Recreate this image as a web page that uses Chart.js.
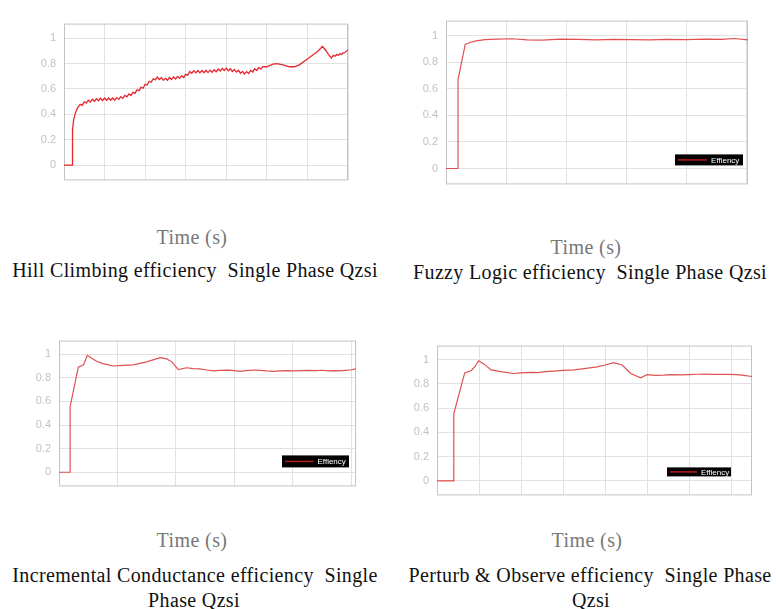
<!DOCTYPE html>
<html>
<head>
<meta charset="utf-8">
<script src="https://cdn.jsdelivr.net/npm/chart.js@4.4.1/dist/chart.umd.min.js"></script>
<style>
  body { margin: 0; width: 776px; height: 609px; background: #fff; position: relative; overflow: hidden; }
  canvas { position: absolute; }
  .lbl { position: absolute; font-family: "Liberation Serif", serif; font-size: 20px; letter-spacing: 0.35px; white-space: nowrap; transform: translate(-50%, -50%); }
  .time { color: #777; letter-spacing: 0.4px; }
  .cap { color: #111; }
</style>
</head>
<body>
<canvas id="hill"></canvas>
<canvas id="fuzzy"></canvas>
<canvas id="inc"></canvas>
<canvas id="po"></canvas>

<div class="lbl time" style="left:192px; top:237px">Time (s)</div>
<div class="lbl cap" style="left:195px; top:270px">Hill Climbing efficiency&nbsp; Single Phase Qzsi</div>
<div class="lbl time" style="left:586px; top:247px">Time (s)</div>
<div class="lbl cap" style="left:590px; top:272px">Fuzzy Logic efficiency&nbsp; Single Phase Qzsi</div>
<div class="lbl time" style="left:192px; top:540px">Time (s)</div>
<div class="lbl cap" style="left:195px; top:575px">Incremental Conductance efficiency&nbsp; Single</div>
<div class="lbl cap" style="left:194px; top:600px">Phase Qzsi</div>
<div class="lbl time" style="left:587px; top:540px">Time (s)</div>
<div class="lbl cap" style="left:590px; top:575px">Perturb &amp; Observe efficiency&nbsp; Single Phase</div>
<div class="lbl cap" style="left:591px; top:600px">Qzsi</div>

<script>
// y tick labels shared by all four plots
const yTicks = [0, 0.2, 0.4, 0.6, 0.8, 1];

// Hill Climbing (rippled trace)
const hillTime = [0, 0.21, 0.21, 0.24, 0.28, 0.33,
  0.40, 0.45, 0.50, 0.55, 0.60, 0.65, 0.70, 0.75, 0.80, 0.85, 0.90, 0.95, 1.00, 1.05, 1.10, 1.15,
  1.20, 1.25, 1.30, 1.35, 1.40, 1.45, 1.50, 1.55, 1.60, 1.65, 1.70, 1.75, 1.80, 1.85, 1.90, 1.95,
  2.00, 2.05, 2.10, 2.15, 2.20, 2.25, 2.30, 2.35, 2.40, 2.45, 2.50, 2.55, 2.60, 2.65, 2.70, 2.75,
  2.80, 2.85, 2.90, 2.95, 3.00, 3.05, 3.10, 3.15, 3.20, 3.25, 3.30, 3.35, 3.40, 3.45, 3.50, 3.55,
  3.60, 3.65, 3.70, 3.75, 3.80, 3.85, 3.90, 3.95, 4.00, 4.05, 4.10, 4.15, 4.20, 4.25, 4.30, 4.35,
  4.40, 4.45, 4.50, 4.55, 4.60, 4.65, 4.70, 4.75, 4.80, 4.85, 4.90,
  5.00, 5.15, 5.25, 5.40, 5.55, 5.68, 5.80, 5.95, 6.10, 6.25, 6.37, 6.45, 6.52, 6.59,
  6.64, 6.68, 6.72, 6.76, 6.80, 6.84, 6.88, 6.92, 6.96, 7.00];
const hillEff = [0, 0, 0.28, 0.36, 0.41, 0.45,
  0.479, 0.471, 0.499, 0.489, 0.512, 0.498, 0.519, 0.504, 0.524, 0.508, 0.527, 0.510, 0.529, 0.511, 0.529, 0.511,
  0.529, 0.512, 0.532, 0.518, 0.540, 0.527, 0.550, 0.538, 0.561, 0.549, 0.574, 0.565, 0.594, 0.587, 0.614, 0.606,
  0.637, 0.631, 0.661, 0.653, 0.681, 0.671, 0.694, 0.675, 0.689, 0.668, 0.684, 0.669, 0.690, 0.675, 0.695, 0.679,
  0.699, 0.684, 0.705, 0.691, 0.715, 0.709, 0.737, 0.724, 0.744, 0.727, 0.745, 0.727, 0.745, 0.728, 0.747, 0.729,
  0.748, 0.731, 0.751, 0.736, 0.757, 0.742, 0.762, 0.746, 0.764, 0.744, 0.759, 0.738, 0.754, 0.733, 0.747, 0.724,
  0.739, 0.719, 0.737, 0.722, 0.746, 0.734, 0.759, 0.746, 0.769, 0.756, 0.776,
  0.775, 0.795, 0.80, 0.79, 0.775, 0.775, 0.79, 0.825, 0.86, 0.895, 0.935, 0.905, 0.87, 0.845,
  0.865, 0.858, 0.872, 0.866, 0.878, 0.872, 0.884, 0.886, 0.898, 0.91];
const hillGrid = [0, 1, 2, 3, 4, 5, 6, 7];

// Fuzzy Logic
const fuzzyTime = [0, 0.2, 0.2, 0.32, 0.4, 0.5, 0.65, 0.85, 1.1, 1.35, 1.6, 1.9, 2.2, 2.5, 2.8,
  3.1, 3.4, 3.7, 4.0, 4.3, 4.6, 4.8, 5.03];
const fuzzyEff = [0, 0, 0.67, 0.935, 0.95, 0.962, 0.972, 0.975, 0.978, 0.97, 0.968, 0.976, 0.974, 0.97, 0.974,
  0.972, 0.97, 0.973, 0.971, 0.975, 0.974, 0.98, 0.97];
const fuzzyGrid = [0, 1, 2, 3, 4, 5];

// Incremental Conductance
const incTime = [0, 0.19, 0.19, 0.33, 0.42, 0.485, 0.56, 0.645, 0.75, 0.93, 1.1, 1.27, 1.5, 1.73, 1.84,
  1.93, 2.04, 2.18, 2.3, 2.41, 2.5, 2.64, 2.75, 2.9, 3.0, 3.1, 3.2, 3.33, 3.45, 3.55, 3.67, 3.8, 3.9,
  4.0, 4.13, 4.25, 4.4, 4.5, 4.6, 4.7, 4.8, 4.9, 5.0, 5.08];
const incEff = [0, 0, 0.555, 0.89, 0.91, 0.99, 0.965, 0.94, 0.92, 0.9, 0.905, 0.91, 0.935, 0.97, 0.96,
  0.935, 0.87, 0.885, 0.878, 0.875, 0.868, 0.858, 0.862, 0.865, 0.86, 0.855, 0.86, 0.866, 0.862, 0.858, 0.855, 0.858, 0.86,
  0.858, 0.86, 0.862, 0.86, 0.864, 0.858, 0.86, 0.858, 0.863, 0.868, 0.875];
const incGrid = [0, 1, 2, 3, 4, 5];

// Perturb & Observe
const poTime = [0, 0.40, 0.40, 0.66, 0.82, 0.91, 0.99, 1.13, 1.29, 1.52, 1.83, 2.0, 2.23, 2.4, 2.6, 2.79,
  3.0, 3.27, 3.5, 3.82, 4.0, 4.21, 4.41, 4.61, 4.85, 5.0, 5.2, 5.4, 5.56, 5.8, 6.0, 6.2, 6.35, 6.6, 6.9,
  7.14, 7.3, 7.5];
const poEff = [0, 0, 0.555, 0.89, 0.91, 0.945, 0.99, 0.96, 0.915, 0.90, 0.885, 0.89, 0.895, 0.893, 0.90, 0.905,
  0.91, 0.915, 0.925, 0.94, 0.955, 0.975, 0.955, 0.885, 0.85, 0.875, 0.87, 0.872, 0.875, 0.873, 0.876, 0.879, 0.88, 0.878, 0.877,
  0.875, 0.87, 0.86];
const poGrid = [0, 1, 2, 3, 4, 5, 6, 7];

// plot box outline (matlab style)
const boxPlugin = {
  id: 'boxPlugin',
  beforeDatasetsDraw(chart) {
    const a = chart.chartArea, c = chart.ctx;
    c.save();
    c.strokeStyle = '#c4c4c4';
    c.lineWidth = 1;
    c.strokeRect(a.left + 0.5, a.top + 0.5, a.right - a.left - 1, a.bottom - a.top - 1);
    c.restore();
  }
};

// the small black "Effiency" legend
const effLegend = {
  id: 'effLegend',
  afterDraw(chart, args, opts) {
    if (!opts.show) return;
    const a = chart.chartArea, c = chart.ctx;
    const x = a.right - opts.right - opts.w, y = a.bottom - 19 - opts.h;
    c.save();
    c.fillStyle = '#000';
    c.fillRect(x, y, opts.w, opts.h);
    c.strokeStyle = '#b51a1a';
    c.lineWidth = 1.5;
    c.beginPath();
    c.moveTo(x + 3, y + opts.h / 2);
    c.lineTo(x + opts.w * 0.47, y + opts.h / 2);
    c.stroke();
    c.fillStyle = '#fff';
    c.font = '8px "Liberation Sans", sans-serif';
    c.textBaseline = 'middle';
    c.fillText('Effiency', x + opts.w * 0.53, y + opts.h / 2 + 0.5);
    c.restore();
  }
};

function makeChart(id, box, times, effs, grid, xMax, color, lineW, legend) {
  const cv = document.getElementById(id);
  cv.width = box.R - box.L + 41;
  cv.height = box.B - box.T + 3;
  cv.style.left = (box.L - 40) + 'px';
  cv.style.top = (box.T - 1) + 'px';

  const pts = times.map((t, i) => ({ x: t, y: effs[i] }));

  return new Chart(cv.getContext('2d'), {
    type: 'line',
    data: {
      datasets: [{
        data: pts,
        borderColor: color,
        borderWidth: lineW,
        pointRadius: 0,
        tension: 0,
        fill: false
      }]
    },
    options: {
      responsive: false,
      animation: false,
      events: [],
      layout: { padding: { top: 1, right: 1, left: 0, bottom: 0 } },
      plugins: {
        legend: { display: false },
        tooltip: { enabled: false },
        effLegend: legend
      },
      scales: {
        x: {
          type: 'linear',
          min: 0,
          max: xMax,
          afterBuildTicks: s => { s.ticks = grid.map(v => ({ value: v })); },
          afterFit: s => { s.height = 2; },
          ticks: { display: false },
          grid: { color: '#e2e2e2', drawTicks: false },
          border: { display: false }
        },
        y: {
          min: -0.12,
          max: 1.115,
          afterBuildTicks: s => { s.ticks = yTicks.map(v => ({ value: v })); },
          afterFit: s => { s.width = 40; },
          ticks: {
            padding: 8,
            color: '#c2c2c2',
            font: { family: '"Liberation Sans", sans-serif', size: 11 },
            callback: v => String(Math.round(v * 10) / 10)
          },
          grid: { color: '#e2e2e2', drawTicks: false },
          border: { display: false }
        }
      }
    },
    plugins: [boxPlugin, effLegend]
  });
}

makeChart('hill', { L: 64, T: 10, R: 348, B: 193 }, hillTime, hillEff, hillGrid, 7,
  '#e8262e', 1.3, { show: false });
makeChart('fuzzy', { L: 446, T: 7, R: 748, B: 197 }, fuzzyTime, fuzzyEff, fuzzyGrid, 5.03,
  '#e05050', 1.2, { show: true, right: 5, w: 68, h: 11 });
makeChart('inc', { L: 59, T: 327, R: 356, B: 499 }, incTime, incEff, incGrid, 5.08,
  '#e05050', 1.2, { show: true, right: 7, w: 67, h: 12 });
makeChart('po', { L: 437, T: 332, R: 752, B: 508 }, poTime, poEff, poGrid, 7.5,
  '#e05050', 1.2, { show: true, right: 21, w: 64, h: 9 });
</script>
</body>
</html>
